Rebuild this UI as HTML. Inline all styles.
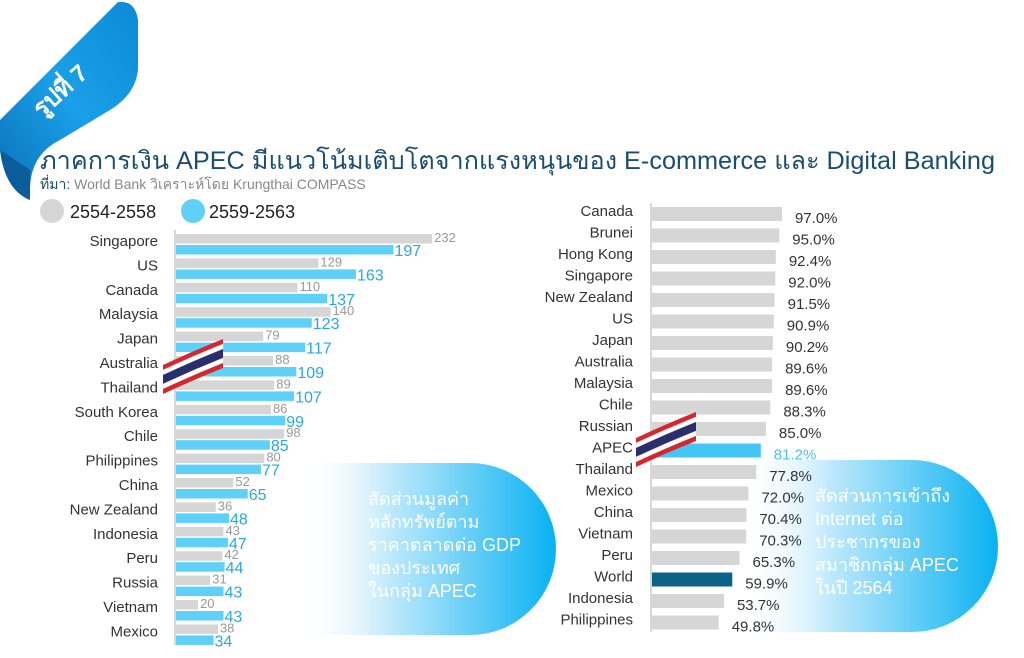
<!DOCTYPE html>
<html><head><meta charset="utf-8"><style>
html,body{margin:0;padding:0;background:#fff}
svg{display:block}
text{font-family:"Liberation Sans","Noto Sans CJK SC",sans-serif}
</style></head><body>
<svg width="1024" height="658" viewBox="0 0 1024 658" xmlns="http://www.w3.org/2000/svg">
<defs>
<linearGradient id="rib" x1="0" y1="1" x2="1" y2="0"><stop offset="0" stop-color="#0a6fb8"/><stop offset="0.5" stop-color="#1aa0e8"/><stop offset="1" stop-color="#0c8ad6"/></linearGradient>
<linearGradient id="bub" x1="0" y1="0" x2="1" y2="0"><stop offset="0" stop-color="#fff" stop-opacity="0"/><stop offset="0.35" stop-color="#bfe9fb"/><stop offset="1" stop-color="#08b2f2"/></linearGradient>
</defs>
<!-- ribbon -->
<path d="M0,120 L118,2 Q135,0 138,20 L138,70 Q135,95 110,110 L60,140 Q30,155 30,190 L30,200 Q5,190 0,150 Z" fill="url(#rib)"/>
<path d="M0,150 Q5,190 30,200 L30,170 Z" fill="#0a5c9a"/>
<text x="0" y="0" transform="translate(42,118) rotate(-42)" font-size="24" font-weight="bold" fill="#fff">รูปที่ 7</text>
<!-- title -->
<text x="40" y="169" font-size="25" fill="#1b4d6e" textLength="955" lengthAdjust="spacingAndGlyphs">ภาคการเงิน APEC มีแนวโน้มเติบโตจากแรงหนุนของ E-commerce และ Digital Banking</text>
<text x="40" y="189" font-size="14" fill="#888"><tspan fill="#1b4d6e">ที่มา:</tspan> World Bank  วิเคราะห์โดย Krungthai COMPASS</text>
<circle cx="52" cy="211" r="12" fill="#d6d6d6"/>
<text x="70" y="218" font-size="18" fill="#222">2554-2558</text>
<circle cx="193" cy="211" r="12" fill="#5fd0f7"/>
<text x="209" y="218" font-size="18" fill="#222">2559-2563</text>
<!-- bubbles -->
<path d="M300,463 L470,463 A86,86 0 0 1 470,635 L300,635 Z" fill="url(#bub)"/>
<g font-size="18" fill="#fff">
<text x="368" y="505">สัดส่วนมูลค่า</text><text x="368" y="528">หลักทรัพย์ตาม</text><text x="368" y="551">ราคาตลาดต่อ GDP</text><text x="368" y="574">ของประเทศ</text><text x="368" y="597">ในกลุ่ม APEC</text>
</g>
<path d="M740,460 L912,460 A86,86 0 0 1 912,632 L740,632 Z" fill="url(#bub)"/>
<g font-size="18" fill="#fff">
<text x="815" y="502">สัดส่วนการเข้าถึง</text><text x="815" y="525">Internet ต่อ</text><text x="815" y="548">ประชากรของ</text><text x="815" y="571">สมาชิกกลุ่ม APEC</text><text x="815" y="594">ในปี 2564</text>
</g>
<line x1="175" y1="230" x2="175" y2="645" stroke="#ccc" stroke-width="1.5"/>
<line x1="651" y1="203" x2="651" y2="632" stroke="#ccc" stroke-width="1.5"/>
</svg>
<script>
var ns="http://www.w3.org/2000/svg",svg=document.querySelector('svg');
function el(t,a,txt){var e=document.createElementNS(ns,t);for(var k in a)e.setAttribute(k,a[k]);if(txt!=null)e.textContent=txt;svg.appendChild(e);return e;}
var L=[["Singapore",232,197],["US",129,163],["Canada",110,137],["Malaysia",140,123],["Japan",79,117],["Australia",88,109],["Thailand",89,107],["South Korea",86,99],["Chile",98,85],["Philippines",80,77],["China",52,65],["New Zealand",36,48],["Indonesia",43,47],["Peru",42,44],["Russia",31,43],["Vietnam",20,43],["Mexico",38,34]];
L.forEach(function(d,i){var y=241+i*24.4,s=1.104;
el('text',{x:158,y:y+5,'font-size':15,fill:'#333','text-anchor':'end'},d[0]);
el('rect',{x:176,y:y-7,width:d[1]*s,height:9.5,fill:'#d6d6d6'});
el('rect',{x:176,y:y+4,width:d[2]*s,height:9.5,fill:'#5fd0f7'});
el('text',{x:176+d[1]*s+2,y:y+1,'font-size':13,fill:'#999'},d[1]);
el('text',{x:176+d[2]*s+1,y:y+15,'font-size':16,fill:'#2aa8dc'},d[2]);});
var R=[["Canada",97.0],["Brunei",95.0],["Hong Kong",92.4],["Singapore",92.0],["New Zealand",91.5],["US",90.9],["Japan",90.2],["Australia",89.6],["Malaysia",89.6],["Chile",88.3],["Russian",85.0],["APEC",81.2],["Thailand",77.8],["Mexico",72.0],["China",70.4],["Vietnam",70.3],["Peru",65.3],["World",59.9],["Indonesia",53.7],["Philippines",49.8]];
R.forEach(function(d,i){var y=211+i*21.5,s=1.34;
el('text',{x:633,y:y+5,'font-size':15,fill:'#333','text-anchor':'end'},d[0]);
var c=d[0]=="APEC"?'#43c6f5':d[0]=="World"?'#0c6388':'#d6d6d6';
el('rect',{x:652,y:y-4,width:d[1]*s,height:14,fill:c});
el('text',{x:652+d[1]*s+13,y:y+12,'font-size':15,fill:d[0]=="APEC"?'#4cc0ee':'#333'},d[1].toFixed(1)+'%');});
function flag(x,y){var cols=['#d6262e','#fff','#2a2e6e','#fff','#d6262e'],h=[5,5,9,5,5],o=0;
cols.forEach(function(c,i){el('path',{d:'M'+x+','+(y+o)+' q30,-14 60,-26 l0,'+h[i]+' q-30,12 -60,26 z',fill:c,stroke:i==1||i==3?'#ddd':'none','stroke-width':0.5});o+=h[i];});}
flag(163,365);flag(636,438);
</script>
</body></html>
